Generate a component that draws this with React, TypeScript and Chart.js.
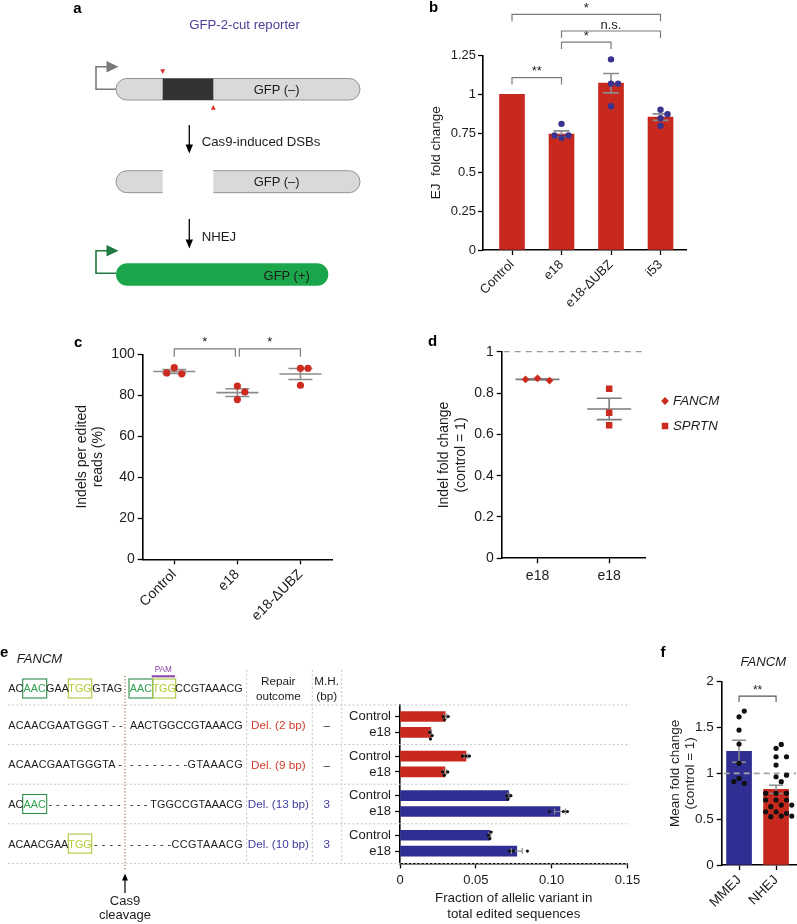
import React, { useEffect, useRef } from 'react';
import { Chart, registerables } from 'chart.js';

Chart.register(...registerables);

const FONT = "'Liberation Sans', Arial, Helvetica, sans-serif";
const INK = '#1c1c1c';
const RED = '#c7291e';
const BLUE = '#2f2e92';
const DOT_RED = '#cd2b20';
const DOT_BLUE = '#39348f';
const GRAY = '#8b8b8b';
const GREEN_TXT = '#34a350';
const GREEN_BOX = '#2c8c48';
const YG_TXT = '#b4cd32';
const YG_BOX = '#a9c83a';
const PURPLE = '#8b3fa8';

// ---------------- panel b ----------------
const bCategories = ['Control', 'e18', 'e18-ΔUBZ', 'i53'];
const bMeans = [1.0, 0.745, 1.071, 0.853];
const bSem = [0, 0.02, 0.062, 0.021];
const bRepControl: number[] = [];
const bRepE18 = [0.81, 0.72, 0.735, 0.735];
const bRepDeltaUBZ = [1.224, 0.923, 1.068, 1.068];
const bRepI53 = [0.9, 0.797, 0.872, 0.846];
const bYTicks = [0, 0.25, 0.5, 0.75, 1, 1.25];
const bYTickLabels = ['0', '0.25', '0.5', '0.75', '1', '1.25'];
const bSig = [
  { from: 0, to: 1, level: 1.107, label: '**' },
  { from: 1, to: 2, level: 1.335, label: '*' },
  { from: 1, to: 3, level: 1.406, label: 'n.s.' },
  { from: 0, to: 3, level: 1.513, label: '*' },
];

// ---------------- panel c ----------------
const cCategories = ['Control', 'e18', 'e18-ΔUBZ'];
const cRepControl = [93.5, 90.5, 90.9];
const cRepE18 = [84.5, 81.6, 77.9];
const cRepDeltaUBZ = [93.2, 84.9, 93.2];
const cMeans = [91.6, 81.3, 90.4];
const cSem = [1.0, 1.9, 2.7];
const cYTicks = [0, 20, 40, 60, 80, 100];
const cYTickLabels = ['0', '20', '40', '60', '80', '100'];
const cSig = [
  { from: 0, to: 1, level: 102.6, label: '*' },
  { from: 1, to: 2, level: 102.6, label: '*' },
];

// ---------------- panel d ----------------
const dCategories = ['e18', 'e18'];
const dGenes = ['FANCM', 'SPRTN'];
const dFANCM = [0.871, 0.86, 0.866];
const dSPRTN = [0.821, 0.705, 0.644];
const dMeans = [0.866, 0.723];
const dSem = [0.003, 0.052];
const dYTicks = [0, 0.2, 0.4, 0.6, 0.8, 1];
const dYTickLabels = ['0', '0.2', '0.4', '0.6', '0.8', '1'];

// ---------------- panel e ----------------
const eOutcomes = ['Del. (2 bp)', 'Del. (9 bp)', 'Del. (13 bp)', 'Del. (10 bp)'];
const eOutcomeType = ['NHEJ', 'NHEJ', 'MMEJ', 'MMEJ'];
const eMicrohomology = ['–', '–', '3', '3'];
const eConditions = ['Control', 'e18'];
const eControlMean = [0.0298, 0.0435, 0.0716, 0.0592];
const eE18Mean = [0.0203, 0.0296, 0.1055, 0.077];
const eControlSem = [0.001, 0.0013, 0.0007, 0.0006];
const eE18Sem = [0.0005, 0.001, 0.0036, 0.0036];
const eControlReps = [[0.0285, 0.0292, 0.0318], [0.0412, 0.0435, 0.0458], [0.0705, 0.0712, 0.0731], [0.0583, 0.0592, 0.0601]];
const eE18Reps = [[0.0196, 0.0201, 0.0212], [0.0281, 0.0292, 0.0315], [0.0985, 0.1077, 0.1104], [0.0721, 0.0748, 0.084]];
const eRowOffsets = [0.29, 0.69];
const eXTicks = [0, 0.05, 0.1, 0.15];
const eXTickLabels = ['0', '0.05', '0.10', '0.15'];

// ---------------- panel f ----------------
const fCategories = ['MMEJ', 'NHEJ'];
const fMeans = [1.24, 0.825];
const fSem = [0.12, 0.045];
const fRepMMEJ = [1.617, 1.679, 1.472, 1.32, 1.109, 0.945, 0.891, 0.909];
const fRepNHEJ = [1.273, 1.316, 1.181, 1.181, 1.09, 0.963, 0.98, 0.909, 0.782, 0.782, 0.782, 0.709, 0.709, 0.709, 0.654, 0.636, 0.654, 0.581, 0.564, 0.581, 0.534, 0.527, 0.534];
const fYTicks = [0, 0.5, 1, 1.5, 2];
const fYTickLabels = ['0', '0.5', '1', '1.5', '2'];
const fSig = [{ from: 0, to: 1, level: 1.843, label: '**' }];

// ---------------- layout ----------------
type Pad = { left: number; top: number; right: number; bottom: number };
type Geo = { left: number; top: number; width: number; height: number; pad: Pad; yW: number; xH: number; xr: number[]; yr: number[] };

const GB: Geo = { left: 420, top: 0, width: 290, height: 320, pad: { left: 8, top: 55.3, right: 24, bottom: 0 }, yW: 55, xH: 70, xr: [-0.586, 3.515], yr: [0, 1.25] };
const GC: Geo = { left: 66, top: 330, width: 286, height: 290, pad: { left: 7.75, top: 24.3, right: 20, bottom: 0 }, yW: 68.95, xH: 60.7, xr: [-0.5, 2.5], yr: [0, 100] };
const GD: Geo = { left: 428, top: 335, width: 312, height: 265, pad: { left: 7.6, top: 16.7, right: 95, bottom: 0 }, yW: 66.1, xH: 41.7, xr: [-0.5, 1.5], yr: [0, 1] };
const GE: Geo = { left: 340, top: 690, width: 308, height: 232, pad: { left: 0, top: 15, right: 20.5, bottom: 0 }, yW: 60, xH: 58.6, xr: [0, 0.15], yr: [0, 4] };
const GF: Geo = { left: 662, top: 665, width: 138, height: 250, pad: { left: 5.25, top: 16.7, right: 0, bottom: 0 }, yW: 54.45, xH: 50, xr: [-0.469, 1.539], yr: [0, 2] };

function area(g: Geo) {
  const l = g.left + g.pad.left + g.yW;
  const r = g.left + g.width - g.pad.right;
  const t = g.top + g.pad.top;
  const b = g.top + g.height - g.pad.bottom - g.xH;
  return { l, r, t, b, pxX: (r - l) / (g.xr[1] - g.xr[0]), pxY: (b - t) / (g.yr[1] - g.yr[0]) };
}

// deterministic collision-avoiding placement (beeswarm) in pixels
function swarm(values: number[], pxPerValue: number, step: number, minDist: number): number[] {
  const placed: { v: number; o: number }[] = [];
  return values.map((v) => {
    let chosen = 0;
    for (let k = 0; k < 30; k++) {
      const cand = k === 0 ? 0 : (k % 2 === 1 ? 1 : -1) * Math.ceil(k / 2) * step;
      const ok = placed.every((p) => Math.hypot((p.v - v) * pxPerValue, p.o - cand) >= minDist);
      if (ok) { chosen = cand; break; }
    }
    placed.push({ v, o: chosen });
    return chosen;
  });
}

function fitAxis(size: number) {
  return (s: any) => {
    if (s.isHorizontal()) s.height = size; else s.width = size;
    s.paddingLeft = 0; s.paddingRight = 0; s.paddingTop = 0; s.paddingBottom = 0;
  };
}

function makeAxis(o: any) {
  const title = o.title
    ? { display: true, text: o.title, color: INK, padding: 0, font: { family: FONT, size: o.titleSize, lineHeight: o.titleLH } }
    : { display: false };
  return {
    type: 'linear',
    position: o.position,
    min: o.min,
    max: o.max,
    bounds: 'data',
    offset: false,
    reverse: !!o.reverse,
    border: { display: true, color: '#000', width: 1.6 },
    grid: { display: true, drawOnChartArea: false, drawTicks: true, tickLength: 5, tickWidth: 1.3, color: '#000', tickColor: '#000', offset: false },
    ticks: {
      color: INK,
      font: { family: FONT, size: o.font },
      padding: o.pad,
      autoSkip: false,
      maxRotation: o.rotation || 0,
      minRotation: o.rotation || 0,
      callback: (_v: any, i: number) => o.labels[i],
    },
    title,
    afterBuildTicks: (s: any) => { s.ticks = o.values.map((v: number) => ({ value: v })); },
    afterFit: fitAxis(o.size),
  };
}

// ---------------- plugin: error bars, reference line, brackets, legend ----------------
function drawRef(chart: any, ref: any) {
  const { ctx, chartArea, scales } = chart;
  const y = scales.y.getPixelForValue(ref.value);
  ctx.save();
  ctx.strokeStyle = ref.color;
  ctx.lineWidth = ref.width;
  ctx.setLineDash(ref.dash);
  ctx.beginPath();
  ctx.moveTo(chartArea.left + 2, y);
  ctx.lineTo(chartArea.right + (ref.extend || 0), y);
  ctx.stroke();
  ctx.restore();
}

function drawErrors(chart: any, e: any) {
  const { ctx, scales } = chart;
  const xs = scales.x;
  const ys = scales.y;
  ctx.save();
  ctx.strokeStyle = e.color;
  ctx.lineWidth = e.width;
  for (const it of e.items) {
    ctx.beginPath();
    if (!e.horizontal) {
      const px = xs.getPixelForValue(it.pos);
      const yM = ys.getPixelForValue(it.mean);
      if (it.sem > 0) {
        const yT = ys.getPixelForValue(it.mean + it.sem);
        const yB = ys.getPixelForValue(it.mean - it.sem);
        ctx.moveTo(px, yT); ctx.lineTo(px, yB);
        ctx.moveTo(px - e.capHalf, yT); ctx.lineTo(px + e.capHalf, yT);
        ctx.moveTo(px - e.capHalf, yB); ctx.lineTo(px + e.capHalf, yB);
      }
      if (e.meanHalf) { ctx.moveTo(px - e.meanHalf, yM); ctx.lineTo(px + e.meanHalf, yM); }
    } else {
      const py = ys.getPixelForValue(it.pos);
      if (it.sem > 0) {
        const xL = xs.getPixelForValue(it.mean - it.sem);
        const xR = xs.getPixelForValue(it.mean + it.sem);
        ctx.moveTo(xL, py); ctx.lineTo(xR, py);
        ctx.moveTo(xL, py - e.capHalf); ctx.lineTo(xL, py + e.capHalf);
        ctx.moveTo(xR, py - e.capHalf); ctx.lineTo(xR, py + e.capHalf);
      }
    }
    ctx.stroke();
  }
  ctx.restore();
}

function drawBrackets(chart: any, b: any) {
  const { ctx, scales } = chart;
  ctx.save();
  ctx.strokeStyle = b.color;
  ctx.lineWidth = b.width;
  ctx.fillStyle = INK;
  ctx.font = `${b.size}px ${FONT}`;
  ctx.textAlign = 'center';
  ctx.textBaseline = 'alphabetic';
  for (const br of b.items) {
    const shared = (idx: number) => b.items.some((o: any) => o !== br && o.level === br.level && (o.from === idx || o.to === idx));
    const x1 = scales.x.getPixelForValue(br.from) + (shared(br.from) ? 2 : 0);
    const x2 = scales.x.getPixelForValue(br.to) - (shared(br.to) ? 2 : 0);
    const y = scales.y.getPixelForValue(br.level);
    ctx.beginPath();
    ctx.moveTo(x1, y + b.drop); ctx.lineTo(x1, y); ctx.lineTo(x2, y); ctx.lineTo(x2, y + b.drop);
    ctx.stroke();
    ctx.fillText(br.label, (x1 + x2) / 2, y - 2.5);
  }
  ctx.restore();
}

function drawLegend(chart: any, lg: any) {
  const { ctx, chartArea } = chart;
  ctx.save();
  let row = 0;
  chart.data.datasets.forEach((ds: any) => {
    if (!ds.label) return;
    const x = chartArea.right + lg.dx;
    const y = chartArea.top + lg.dy + row * lg.gap;
    row++;
    const r = ds.pointRadius;
    ctx.fillStyle = ds.pointBackgroundColor;
    ctx.beginPath();
    if (ds.pointStyle === 'rectRot') {
      ctx.moveTo(x, y - r); ctx.lineTo(x + r, y); ctx.lineTo(x, y + r); ctx.lineTo(x - r, y); ctx.closePath();
    } else {
      const h = r * Math.SQRT1_2;
      ctx.rect(x - h, y - h, 2 * h, 2 * h);
    }
    ctx.fill();
    ctx.fillStyle = INK;
    ctx.font = `italic ${lg.size}px ${FONT}`;
    ctx.textAlign = 'left';
    ctx.textBaseline = 'middle';
    ctx.fillText(ds.label, x + lg.textGap, y + 0.5);
  });
  ctx.restore();
}

const figurePlugin = {
  id: 'figure',
  beforeDatasetsDraw(chart: any, _a: any, o: any) {
    if (o.ref && o.ref.layer === 'below') drawRef(chart, o.ref);
    if (o.errors && o.errors.layer === 'below') drawErrors(chart, o.errors);
  },
  afterDatasetDraw(chart: any, args: any, o: any) {
    if (args.index !== 0) return;
    if (o.ref && o.ref.layer === 'above') drawRef(chart, o.ref);
    if (o.errors && o.errors.layer === 'above') drawErrors(chart, o.errors);
  },
  afterDraw(chart: any, _a: any, o: any) {
    if (o.brackets) drawBrackets(chart, o.brackets);
    if (o.legend) drawLegend(chart, o.legend);
  },
};
Chart.register(figurePlugin as any);

function baseOptions(g: Geo, figure: any, scales: any) {
  return {
    responsive: false,
    maintainAspectRatio: false,
    animation: false,
    devicePixelRatio: 1,
    events: [],
    layout: { padding: g.pad },
    plugins: { legend: { display: false }, tooltip: { enabled: false }, figure },
    scales,
  };
}

// ---------------- chart builders ----------------
function buildB() {
  const a = area(GB);
  const reps = [bRepControl, bRepE18, bRepDeltaUBZ, bRepI53];
  const pts: any[] = [];
  reps.forEach((vals, i) => {
    swarm(vals, a.pxY, 7, 7).forEach((o, k) => pts.push({ x: i + o / a.pxX, y: vals[k] }));
  });
  return {
    type: 'bar',
    data: {
      datasets: [
        { type: 'bar', data: bMeans.map((v, i) => ({ x: i, y: v })), backgroundColor: RED, barThickness: 25, order: 2 },
        { type: 'scatter', data: pts, pointRadius: 3.2, pointBackgroundColor: DOT_BLUE, pointBorderWidth: 0, order: 1 },
      ],
    },
    options: baseOptions(
      GB,
      {
        errors: { layer: 'above', color: GRAY, width: 1.6, capHalf: 8, items: bMeans.map((m, i) => ({ pos: i, mean: m, sem: bSem[i] })) },
        brackets: { color: '#7b7b7b', width: 1.2, size: 13, drop: 7, items: bSig },
      },
      {
        x: makeAxis({ position: 'bottom', min: GB.xr[0], max: GB.xr[1], values: bCategories.map((_, i) => i), labels: bCategories, size: GB.xH, font: 13, pad: 2, rotation: 45 }),
        y: makeAxis({ position: 'left', min: GB.yr[0], max: GB.yr[1], values: bYTicks, labels: bYTickLabels, size: GB.yW, font: 13, pad: 2, title: 'EJ  fold change', titleSize: 13.5, titleLH: 1.2 }),
      }
    ),
  };
}

function buildC() {
  const a = area(GC);
  const reps = [cRepControl, cRepE18, cRepDeltaUBZ];
  const pts: any[] = [];
  reps.forEach((vals, i) => {
    swarm(vals, a.pxY, 7.5, 7.5).forEach((o, k) => pts.push({ x: i + o / a.pxX, y: vals[k] }));
  });
  return {
    type: 'scatter',
    data: { datasets: [{ type: 'scatter', data: pts, pointRadius: 3.6, pointBackgroundColor: DOT_RED, pointBorderWidth: 0 }] },
    options: baseOptions(
      GC,
      {
        errors: { layer: 'below', color: GRAY, width: 1.6, capHalf: 12, meanHalf: 21, items: cMeans.map((m, i) => ({ pos: i, mean: m, sem: cSem[i] })) },
        brackets: { color: '#7b7b7b', width: 1.2, size: 13, drop: 7.7, items: cSig },
      },
      {
        x: makeAxis({ position: 'bottom', min: GC.xr[0], max: GC.xr[1], values: cCategories.map((_, i) => i), labels: cCategories, size: GC.xH, font: 14, pad: 2, rotation: 45 }),
        y: makeAxis({ position: 'left', min: GC.yr[0], max: GC.yr[1], values: cYTicks, labels: cYTickLabels, size: GC.yW, font: 14, pad: 3, title: ['Indels per edited', 'reads (%)'], titleSize: 14, titleLH: 1.18 }),
      }
    ),
  };
}

function buildD() {
  const a = area(GD);
  const series = [dFANCM, dSPRTN];
  const styles = ['rectRot', 'rect'];
  const radii = [3.9, 4.6];
  const datasets = series.map((vals, i) => ({
    type: 'scatter',
    label: dGenes[i],
    data: swarm(vals, a.pxY, 12, 8).map((o, k) => ({ x: i + o / a.pxX, y: vals[k] })),
    pointStyle: styles[i],
    pointRadius: radii[i],
    pointBackgroundColor: DOT_RED,
    pointBorderWidth: 0,
  }));
  return {
    type: 'scatter',
    data: { datasets },
    options: baseOptions(
      GD,
      {
        ref: { layer: 'below', value: 1, color: '#9a9a9a', width: 1.3, dash: [6, 5], extend: -2 },
        errors: { layer: 'below', color: '#7d7d7d', width: 1.6, capHalf: 12.5, meanHalf: 22, items: dMeans.map((m, i) => ({ pos: i, mean: m, sem: dSem[i] })) },
        legend: { dx: 20, dy: 49.3, gap: 25, textGap: 8, size: 13.3 },
      },
      {
        x: makeAxis({ position: 'bottom', min: GD.xr[0], max: GD.xr[1], values: dCategories.map((_, i) => i), labels: dCategories, size: GD.xH, font: 14, pad: 4 }),
        y: makeAxis({ position: 'left', min: GD.yr[0], max: GD.yr[1], values: dYTicks, labels: dYTickLabels, size: GD.yW, font: 14, pad: 3, title: ['Indel fold change', '(control = 1)'], titleSize: 14, titleLH: 1.2 }),
      }
    ),
  };
}

function buildE() {
  const a = area(GE);
  const bars: any[] = [];
  const colors: string[] = [];
  const dots: any[] = [];
  const errs: any[] = [];
  const rowPos: number[] = [];
  const rowLabels: string[] = [];
  eOutcomes.forEach((_, g) => {
    const means = [eControlMean[g], eE18Mean[g]];
    const sems = [eControlSem[g], eE18Sem[g]];
    const reps = [eControlReps[g], eE18Reps[g]];
    eConditions.forEach((cond, c) => {
      const pos = g + eRowOffsets[c];
      rowPos.push(pos);
      rowLabels.push(cond);
      bars.push({ x: means[c], y: pos });
      colors.push(eOutcomeType[g] === 'NHEJ' ? RED : BLUE);
      errs.push({ pos, mean: means[c], sem: sems[c] });
      swarm(reps[c], a.pxX, 3.3, 3.4).forEach((o, k) => dots.push({ x: reps[c][k], y: pos + o / a.pxY }));
    });
  });
  return {
    type: 'bar',
    data: {
      datasets: [
        { type: 'bar', indexAxis: 'y', data: bars, backgroundColor: colors, barThickness: 10, order: 2 },
        { type: 'scatter', data: dots, pointRadius: 1.6, pointBackgroundColor: '#111', pointBorderWidth: 0, order: 1 },
      ],
    },
    options: baseOptions(
      GE,
      { errors: { layer: 'above', horizontal: true, color: GRAY, width: 1.2, capHalf: 3, items: errs } },
      {
        x: makeAxis({ position: 'bottom', min: GE.xr[0], max: GE.xr[1], values: eXTicks, labels: eXTickLabels, size: GE.xH, font: 13, pad: 4, title: ['Fraction of allelic variant in', 'total edited sequences'], titleSize: 13.3, titleLH: 1.2 }),
        y: makeAxis({ position: 'left', min: GE.yr[0], max: GE.yr[1], reverse: true, values: rowPos, labels: rowLabels, size: GE.yW, font: 13, pad: 4 }),
      }
    ),
  };
}

function buildF() {
  const a = area(GF);
  const reps = [fRepMMEJ, fRepNHEJ];
  const pts: any[] = [];
  reps.forEach((vals, i) => {
    swarm(vals, a.pxY, 5.5, 5.8).forEach((o, k) => pts.push({ x: i + o / a.pxX, y: vals[k] }));
  });
  return {
    type: 'bar',
    data: {
      datasets: [
        { type: 'bar', data: fMeans.map((v, i) => ({ x: i, y: v })), backgroundColor: [BLUE, RED], barThickness: 25, order: 2 },
        { type: 'scatter', data: pts, pointRadius: 2.6, pointBackgroundColor: '#111', pointBorderWidth: 0, order: 1 },
      ],
    },
    options: baseOptions(
      GF,
      {
        ref: { layer: 'above', value: 1, color: '#a3a3a3', width: 1.8, dash: [6, 4], extend: 0 },
        errors: { layer: 'above', color: GRAY, width: 1.5, capHalf: 7, items: fMeans.map((m, i) => ({ pos: i, mean: m, sem: fSem[i] })) },
        brackets: { color: '#555', width: 1.1, size: 12, drop: 6, items: fSig },
      },
      {
        x: makeAxis({ position: 'bottom', min: GF.xr[0], max: GF.xr[1], values: fCategories.map((_, i) => i), labels: fCategories, size: GF.xH, font: 13.5, pad: 2, rotation: 45 }),
        y: makeAxis({ position: 'left', min: GF.yr[0], max: GF.yr[1], values: fYTicks, labels: fYTickLabels, size: GF.yW, font: 13.5, pad: 3, title: ['Mean fold change', '(control = 1)'], titleSize: 13.5, titleLH: 1.148 }),
      }
    ),
  };
}

function ChartCanvas({ geo, build }: { geo: Geo; build: () => any }) {
  const ref = useRef<HTMLCanvasElement>(null);
  useEffect(() => {
    const chart = new Chart(ref.current as HTMLCanvasElement, build());
    return () => chart.destroy();
  }, []);
  return (
    <div style={{ position: 'absolute', left: geo.left, top: geo.top, width: geo.width, height: geo.height }}>
      <canvas ref={ref} width={geo.width} height={geo.height} style={{ width: geo.width, height: geo.height, display: 'block' }} />
    </div>
  );
}

// ---------------- static diagram (panel a) and sequence table (panel e) ----------------
const SEP_Y = [705, 744.6, 784.2, 823.8, 863.4];

function Seq({ x, y, anchor, children, len }: any) {
  return (
    <text x={x} y={y} fontSize={10.8} textAnchor={anchor || 'start'} fill={INK} {...(len ? { textLength: len, lengthAdjust: 'spacing' } : {})}>
      {children}
    </text>
  );
}

function Overlay() {
  const rowY = SEP_Y.slice(0, 4).map((y, i) => (y + SEP_Y[i + 1]) / 2);
  const hdrY = 688.3;
  const base = (cy: number) => cy + 3.9;
  const outcomeColor = (g: number) => (eOutcomeType[g] === 'NHEJ' ? '#d13a2e' : '#3d3a9e');
  return (
    <svg width={797} height={924} style={{ position: 'absolute', left: 0, top: 0, pointerEvents: 'none' }} fontFamily={FONT}>
      {/* panel labels */}
      <g fontWeight="bold" fontSize={15} fill="#000">
        <text x={73.3} y={12.5}>a</text>
        <text x={429} y={12}>b</text>
        <text x={74} y={346.7}>c</text>
        <text x={428} y={346}>d</text>
        <text x={0} y={656.7}>e</text>
        <text x={660.5} y={657.3}>f</text>
      </g>

      {/* ---------- panel a ---------- */}
      <text x={244.5} y={28.6} fontSize={13.2} fill="#4a3f9a" textAnchor="middle">GFP-2-cut reporter</text>
      <polyline points="116,89.3 96,89.3 96,66.7 108,66.7" fill="none" stroke="#7a7a7a" strokeWidth={1.6} />
      <polygon points="106.5,61 118.5,66.7 106.5,72.4" fill="#7a7a7a" />
      <rect x={116} y={78.5} width={244} height={21.5} rx={10.75} fill="#d9d9d9" stroke="#8a8a8a" strokeWidth={0.9} />
      <rect x={162.7} y={78.5} width={50.6} height={21.5} fill="#333" />
      <polygon points="160.2,69.3 165.2,69.3 162.7,74" fill="#d9342b" />
      <polygon points="210.8,109.7 215.8,109.7 213.3,105" fill="#d9342b" />
      <text x={276.7} y={93.8} fontSize={13} textAnchor="middle" fill={INK}>GFP (–)</text>

      <line x1={189.3} y1={125} x2={189.3} y2={147} stroke="#000" strokeWidth={1.3} />
      <polygon points="185.6,144.5 193,144.5 189.3,153.5" fill="#000" />
      <text x={201.7} y={146.3} fontSize={13.2} fill={INK}>Cas9-induced DSBs</text>

      <path d="M162.7,170.7 H127 A11,11 0 0 0 127,192.7 H162.7 Z" fill="#d9d9d9" />
      <path d="M162.7,170.7 H127 A11,11 0 0 0 127,192.7 H162.7" fill="none" stroke="#8a8a8a" strokeWidth={0.9} />
      <path d="M213.3,170.7 H349 A11,11 0 0 1 349,192.7 H213.3 Z" fill="#d9d9d9" />
      <path d="M213.3,170.7 H349 A11,11 0 0 1 349,192.7 H213.3" fill="none" stroke="#8a8a8a" strokeWidth={0.9} />
      <text x={276.7} y={186.2} fontSize={13} textAnchor="middle" fill={INK}>GFP (–)</text>

      <line x1={189.3} y1={219} x2={189.3} y2={242} stroke="#000" strokeWidth={1.3} />
      <polygon points="185.6,239.5 193,239.5 189.3,248.5" fill="#000" />
      <text x={201.7} y={240.6} fontSize={13.2} fill={INK}>NHEJ</text>

      <polyline points="116,273.3 96,273.3 96,250.7 108,250.7" fill="none" stroke="#1f7a3f" strokeWidth={1.6} />
      <polygon points="106.5,245 118.5,250.7 106.5,256.4" fill="#1f7a3f" />
      <rect x={116} y={263.3} width={212.3} height={22.4} rx={11.2} fill="#1ba64b" />
      <text x={286.7} y={279.6} fontSize={13} textAnchor="middle" fill={INK}>GFP (+)</text>

      {/* ---------- panel e table ---------- */}
      <text x={16.7} y={663} fontSize={13.1} fontStyle="italic" fill={INK}>FANCM</text>
      <text x={763.3} y={665.5} fontSize={13.1} fontStyle="italic" fill={INK} textAnchor="middle">FANCM</text>

      <g stroke="#c4c4c4" strokeWidth={1} strokeDasharray="2 2.2">
        {SEP_Y.map((y, i) => <line key={i} x1={8} y1={y} x2={630} y2={y} />)}
        {[246.7, 312.3, 341.7].map((x, i) => <line key={'v' + i} x1={x} y1={670} x2={x} y2={863.4} />)}
      </g>
      <line x1={125} y1={676} x2={125} y2={871} stroke="#a07050" strokeWidth={1.2} strokeDasharray="1.2 2" />
      <line x1={125} y1={893} x2={125} y2={878} stroke="#000" strokeWidth={1.2} />
      <polygon points="122,880.5 128,880.5 125,873.5" fill="#000" />
      <text x={125} y={904.5} fontSize={13} textAnchor="middle" fill={INK}>Cas9</text>
      <text x={125} y={918.8} fontSize={13} textAnchor="middle" fill={INK}>cleavage</text>

      {/* PAM */}
      <text x={163.3} y={672} fontSize={8.2} textAnchor="middle" fill={PURPLE}>PAM</text>
      <rect x={151.7} y={675.3} width={23.3} height={2} fill={PURPLE} />

      {/* header sequence */}
      <g fill="none" strokeWidth={1.1}>
        <rect x={22.7} y={679} width={24} height={19} stroke={GREEN_BOX} />
        <rect x={68.3} y={679} width={23.4} height={19} stroke={YG_BOX} />
        <rect x={129} y={679} width={23.7} height={19} stroke={GREEN_BOX} />
        <rect x={152.7} y={679} width={23} height={19} stroke={YG_BOX} />
        <rect x={22.7} y={rowY[2] - 9.5} width={24} height={19} stroke={GREEN_BOX} />
        <rect x={68.3} y={rowY[3] - 9.5} width={23.4} height={19} stroke={YG_BOX} />
      </g>
      <Seq x={8.3} y={base(hdrY)}>AC</Seq>
      <Seq x={34.7} y={base(hdrY)} anchor="middle"><tspan fill={GREEN_TXT}>AAC</tspan></Seq>
      <Seq x={57.5} y={base(hdrY)} anchor="middle">GAA</Seq>
      <Seq x={80} y={base(hdrY)} anchor="middle"><tspan fill={YG_TXT}>TGG</tspan></Seq>
      <Seq x={107.2} y={base(hdrY)} anchor="middle">GTAG</Seq>
      <Seq x={140.85} y={base(hdrY)} anchor="middle"><tspan fill={GREEN_TXT}>AAC</tspan></Seq>
      <Seq x={164.2} y={base(hdrY)} anchor="middle"><tspan fill={YG_TXT}>TGG</tspan></Seq>
      <Seq x={242.7} y={base(hdrY)} anchor="end">CCGTAAACG</Seq>

      {/* row 1 */}
      <Seq x={8.3} y={base(rowY[0])} len={114.4}>ACAACGAATGGGT - -</Seq>
      <Seq x={242.7} y={base(rowY[0])} anchor="end" len={112.7}>AACTGGCCGTAAACG</Seq>
      {/* row 2 */}
      <Seq x={8.3} y={base(rowY[1])} len={113.6}>ACAACGAATGGGTA -</Seq>
      <Seq x={242.7} y={base(rowY[1])} anchor="end" len={112.7}>- - - - - - - -GTAAACG</Seq>
      {/* row 3 */}
      <Seq x={8.3} y={base(rowY[2])}>AC</Seq>
      <Seq x={34.7} y={base(rowY[2])} anchor="middle"><tspan fill={GREEN_TXT}>AAC</tspan></Seq>
      <Seq x={48.5} y={base(rowY[2])} len={72}>- - - - - - - - - -</Seq>
      <Seq x={242.7} y={base(rowY[2])} anchor="end" len={112.7}>- - - TGGCCGTAAACG</Seq>
      {/* row 4 */}
      <Seq x={8.3} y={base(rowY[3])} len={60}>ACAACGAA</Seq>
      <Seq x={80} y={base(rowY[3])} anchor="middle"><tspan fill={YG_TXT}>TGG</tspan></Seq>
      <Seq x={94} y={base(rowY[3])} len={27}>- - - -</Seq>
      <Seq x={242.7} y={base(rowY[3])} anchor="end" len={112.7}>- - - - - -CCGTAAACG</Seq>

      {/* header columns */}
      <g fontSize={11.7} fill={INK} textAnchor="middle">
        <text x={278.3} y={685.2}>Repair</text>
        <text x={278.3} y={699.9}>outcome</text>
        <text x={326.7} y={685.2}>M.H.</text>
        <text x={326.7} y={699.9}>(bp)</text>
      </g>
      {eOutcomes.map((o, g) => (
        <g key={g} fontSize={11.7} textAnchor="middle" fill={outcomeColor(g)}>
          <text x={278.3} y={rowY[g] + 4.2}>{o}</text>
          <text x={326.7} y={rowY[g] + 4.2} fill={eMicrohomology[g] === '–' ? INK : outcomeColor(g)}>{eMicrohomology[g]}</text>
        </g>
      ))}
    </svg>
  );
}

export default function App() {
  return (
    <div style={{ position: 'absolute', left: 0, top: 0, width: 797, height: 924, overflow: 'hidden', background: '#fff' }}>
      <ChartCanvas geo={GB} build={buildB} />
      <ChartCanvas geo={GC} build={buildC} />
      <ChartCanvas geo={GD} build={buildD} />
      <ChartCanvas geo={GE} build={buildE} />
      <ChartCanvas geo={GF} build={buildF} />
      <Overlay />
    </div>
  );
}
